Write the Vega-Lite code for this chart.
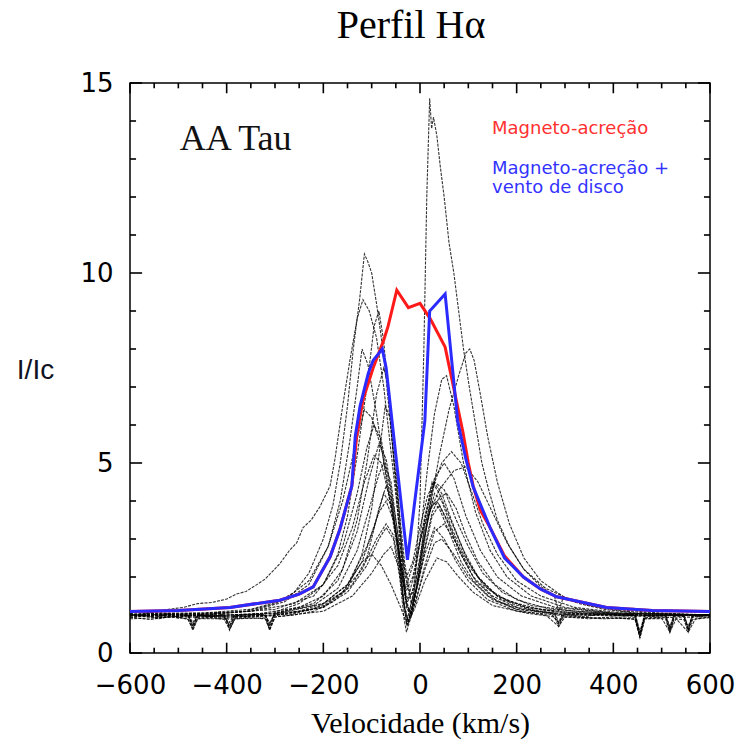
{
"$schema": "https://vega.github.io/schema/vega-lite/v6.json",
"width": 580, "height": 570,
"autosize": {"type": "none"},
"padding": {"left": 130, "top": 83, "right": 32, "bottom": 96},
"background": "white",
"config": {"view": {"stroke": "black", "strokeWidth": 1.5}, "axis": {"grid": false, "ticks": false, "domain": false}},
"title": {"text": "Perfil Hα", "font": "Liberation Serif", "fontSize": 40, "fontWeight": "normal", "color": "black", "anchor": "middle", "frame": "group", "offset": 24, "dx": -9},
"datasets": {
"xt": [
{"v":-600,"kind":"major"},{"v":-550,"kind":"minor"},{"v":-500,"kind":"minor"},{"v":-450,"kind":"minor"},{"v":-400,"kind":"major"},{"v":-350,"kind":"minor"},{"v":-300,"kind":"minor"},{"v":-250,"kind":"minor"},{"v":-200,"kind":"major"},{"v":-150,"kind":"minor"},{"v":-100,"kind":"minor"},{"v":-50,"kind":"minor"},{"v":0,"kind":"major"},{"v":50,"kind":"minor"},{"v":100,"kind":"minor"},{"v":150,"kind":"minor"},{"v":200,"kind":"major"},{"v":250,"kind":"minor"},{"v":300,"kind":"minor"},{"v":350,"kind":"minor"},{"v":400,"kind":"major"},{"v":450,"kind":"minor"},{"v":500,"kind":"minor"},{"v":550,"kind":"minor"},{"v":600,"kind":"major"}
],
"yt": [
{"i":0,"kind":"major"},{"i":1,"kind":"minor"},{"i":2,"kind":"minor"},{"i":3,"kind":"minor"},{"i":4,"kind":"minor"},{"i":5,"kind":"major"},{"i":6,"kind":"minor"},{"i":7,"kind":"minor"},{"i":8,"kind":"minor"},{"i":9,"kind":"minor"},{"i":10,"kind":"major"},{"i":11,"kind":"minor"},{"i":12,"kind":"minor"},{"i":13,"kind":"minor"},{"i":14,"kind":"minor"},{"i":15,"kind":"major"}
],
"obs": [
{"p":1,"v":-600,"i":1.0},{"p":1,"v":-560,"i":0.95},{"p":1,"v":-520,"i":1.03},{"p":1,"v":-480,"i":1.0},{"p":1,"v":-470,"i":0.7},{"p":1,"v":-460,"i":1.0},{"p":1,"v":-430,"i":0.96},{"p":1,"v":-405,"i":1.0},{"p":1,"v":-394,"i":0.72},{"p":1,"v":-383,"i":1.0},{"p":1,"v":-350,"i":1.02},{"p":1,"v":-320,"i":1.0},{"p":1,"v":-311,"i":0.75},{"p":1,"v":-300,"i":1.05},{"p":1,"v":-250,"i":1.1},{"p":1,"v":-200,"i":1.3},{"p":1,"v":-150,"i":1.8},{"p":1,"v":-120,"i":2.4},{"p":1,"v":-100,"i":2.6},{"p":1,"v":-80,"i":2.3},{"p":1,"v":-60,"i":1.8},{"p":1,"v":-40,"i":1.2},{"p":1,"v":-28,"i":0.8},{"p":1,"v":-12,"i":1.6},{"p":1,"v":0,"i":4.0},{"p":1,"v":8,"i":8.0},{"p":1,"v":14,"i":12.0},{"p":1,"v":20,"i":14.6},{"p":1,"v":24,"i":13.8},{"p":1,"v":28,"i":14.1},{"p":1,"v":35,"i":13.6},{"p":1,"v":42,"i":12.8},{"p":1,"v":50,"i":12.0},{"p":1,"v":60,"i":10.8},{"p":1,"v":70,"i":10.0},{"p":1,"v":80,"i":9.0},{"p":1,"v":90,"i":8.0},{"p":1,"v":102,"i":7.0},{"p":1,"v":115,"i":6.0},{"p":1,"v":128,"i":5.0},{"p":1,"v":142,"i":4.3},{"p":1,"v":160,"i":3.5},{"p":1,"v":185,"i":2.8},{"p":1,"v":215,"i":2.2},{"p":1,"v":250,"i":1.75},{"p":1,"v":278,"i":1.5},{"p":1,"v":287,"i":1.1},{"p":1,"v":296,"i":1.45},{"p":1,"v":330,"i":1.3},{"p":1,"v":380,"i":1.15},{"p":1,"v":445,"i":1.05},{"p":1,"v":455,"i":0.55},{"p":1,"v":465,"i":1.03},{"p":1,"v":508,"i":1.0},{"p":1,"v":517,"i":0.7},{"p":1,"v":526,"i":1.0},{"p":1,"v":546,"i":1.0},{"p":1,"v":555,"i":0.7},{"p":1,"v":564,"i":1.0},{"p":1,"v":600,"i":1.0},
{"p":2,"v":-600,"i":1.0},{"p":2,"v":-540,"i":1.05},{"p":2,"v":-480,"i":0.98},{"p":2,"v":-420,"i":1.05},{"p":2,"v":-360,"i":1.1},{"p":2,"v":-300,"i":1.3},{"p":2,"v":-260,"i":1.6},{"p":2,"v":-230,"i":2.1},{"p":2,"v":-200,"i":3.0},{"p":2,"v":-180,"i":3.9},{"p":2,"v":-165,"i":5.0},{"p":2,"v":-150,"i":6.5},{"p":2,"v":-138,"i":8.0},{"p":2,"v":-125,"i":9.3},{"p":2,"v":-115,"i":10.5},{"p":2,"v":-108,"i":10.3},{"p":2,"v":-100,"i":10.0},{"p":2,"v":-90,"i":9.2},{"p":2,"v":-80,"i":8.3},{"p":2,"v":-70,"i":7.2},{"p":2,"v":-58,"i":5.6},{"p":2,"v":-45,"i":4.0},{"p":2,"v":-32,"i":2.4},{"p":2,"v":-20,"i":1.5},{"p":2,"v":-8,"i":1.9},{"p":2,"v":5,"i":2.8},{"p":2,"v":20,"i":3.8},{"p":2,"v":40,"i":5.2},{"p":2,"v":60,"i":6.4},{"p":2,"v":80,"i":7.3},{"p":2,"v":95,"i":7.9},{"p":2,"v":103,"i":8.0},{"p":2,"v":112,"i":7.7},{"p":2,"v":125,"i":6.8},{"p":2,"v":140,"i":5.7},{"p":2,"v":160,"i":4.5},{"p":2,"v":185,"i":3.4},{"p":2,"v":215,"i":2.5},{"p":2,"v":250,"i":1.9},{"p":2,"v":300,"i":1.45},{"p":2,"v":350,"i":1.25},{"p":2,"v":420,"i":1.1},{"p":2,"v":500,"i":1.03},{"p":2,"v":600,"i":1.0},
{"p":3,"v":-600,"i":1.0},{"p":3,"v":-560,"i":1.05},{"p":3,"v":-520,"i":1.15},{"p":3,"v":-490,"i":1.2},{"p":3,"v":-460,"i":1.3},{"p":3,"v":-430,"i":1.33},{"p":3,"v":-400,"i":1.42},{"p":3,"v":-380,"i":1.55},{"p":3,"v":-360,"i":1.62},{"p":3,"v":-340,"i":1.78},{"p":3,"v":-320,"i":1.95},{"p":3,"v":-305,"i":2.15},{"p":3,"v":-290,"i":2.35},{"p":3,"v":-270,"i":2.7},{"p":3,"v":-255,"i":2.9},{"p":3,"v":-242,"i":3.3},{"p":3,"v":-225,"i":3.5},{"p":3,"v":-207,"i":3.85},{"p":3,"v":-186,"i":4.4},{"p":3,"v":-176,"i":5.1},{"p":3,"v":-160,"i":6.5},{"p":3,"v":-145,"i":7.7},{"p":3,"v":-130,"i":8.8},{"p":3,"v":-118,"i":9.3},{"p":3,"v":-105,"i":9.0},{"p":3,"v":-90,"i":8.3},{"p":3,"v":-75,"i":7.0},{"p":3,"v":-60,"i":5.3},{"p":3,"v":-45,"i":3.6},{"p":3,"v":-30,"i":2.0},{"p":3,"v":-18,"i":1.3},{"p":3,"v":-5,"i":1.8},{"p":3,"v":10,"i":2.8},{"p":3,"v":25,"i":3.7},{"p":3,"v":40,"i":4.1},{"p":3,"v":55,"i":4.2},{"p":3,"v":75,"i":3.8},{"p":3,"v":95,"i":3.1},{"p":3,"v":120,"i":2.4},{"p":3,"v":155,"i":1.8},{"p":3,"v":200,"i":1.4},{"p":3,"v":270,"i":1.15},{"p":3,"v":380,"i":1.05},{"p":3,"v":480,"i":0.98},{"p":3,"v":600,"i":1.0},
{"p":4,"v":-600,"i":1.0},{"p":4,"v":-540,"i":0.93},{"p":4,"v":-500,"i":0.97},{"p":4,"v":-480,"i":1.0},{"p":4,"v":-470,"i":0.65},{"p":4,"v":-460,"i":1.0},{"p":4,"v":-405,"i":0.98},{"p":4,"v":-394,"i":0.7},{"p":4,"v":-383,"i":0.98},{"p":4,"v":-340,"i":1.02},{"p":4,"v":-320,"i":1.0},{"p":4,"v":-311,"i":0.7},{"p":4,"v":-300,"i":1.08},{"p":4,"v":-250,"i":1.3},{"p":4,"v":-200,"i":1.8},{"p":4,"v":-170,"i":2.6},{"p":4,"v":-150,"i":3.6},{"p":4,"v":-130,"i":5.2},{"p":4,"v":-110,"i":7.0},{"p":4,"v":-95,"i":8.6},{"p":4,"v":-85,"i":9.0},{"p":4,"v":-75,"i":8.2},{"p":4,"v":-60,"i":6.0},{"p":4,"v":-45,"i":3.5},{"p":4,"v":-32,"i":1.5},{"p":4,"v":-22,"i":1.0},{"p":4,"v":-5,"i":1.8},{"p":4,"v":10,"i":3.5},{"p":4,"v":25,"i":4.5},{"p":4,"v":40,"i":4.2},{"p":4,"v":60,"i":3.6},{"p":4,"v":80,"i":3.0},{"p":4,"v":100,"i":2.4},{"p":4,"v":130,"i":1.8},{"p":4,"v":170,"i":1.4},{"p":4,"v":250,"i":1.15},{"p":4,"v":278,"i":1.1},{"p":4,"v":287,"i":0.8},{"p":4,"v":296,"i":1.08},{"p":4,"v":350,"i":1.05},{"p":4,"v":445,"i":0.98},{"p":4,"v":455,"i":0.45},{"p":4,"v":465,"i":0.98},{"p":4,"v":508,"i":0.97},{"p":4,"v":517,"i":0.6},{"p":4,"v":526,"i":0.97},{"p":4,"v":546,"i":0.96},{"p":4,"v":555,"i":0.6},{"p":4,"v":564,"i":0.96},{"p":4,"v":600,"i":0.98},
{"p":5,"v":-600,"i":0.95},{"p":5,"v":-520,"i":1.02},{"p":5,"v":-450,"i":1.0},{"p":5,"v":-350,"i":1.0},{"p":5,"v":-250,"i":1.2},{"p":5,"v":-200,"i":1.5},{"p":5,"v":-160,"i":2.2},{"p":5,"v":-130,"i":3.5},{"p":5,"v":-110,"i":5.0},{"p":5,"v":-90,"i":6.8},{"p":5,"v":-75,"i":7.5},{"p":5,"v":-65,"i":7.0},{"p":5,"v":-50,"i":5.0},{"p":5,"v":-38,"i":2.8},{"p":5,"v":-28,"i":1.3},{"p":5,"v":-18,"i":1.0},{"p":5,"v":-3,"i":2.0},{"p":5,"v":15,"i":3.4},{"p":5,"v":30,"i":4.2},{"p":5,"v":45,"i":4.0},{"p":5,"v":65,"i":3.3},{"p":5,"v":90,"i":2.6},{"p":5,"v":120,"i":2.0},{"p":5,"v":160,"i":1.5},{"p":5,"v":220,"i":1.2},{"p":5,"v":300,"i":1.05},{"p":5,"v":400,"i":1.0},{"p":5,"v":500,"i":1.03},{"p":5,"v":600,"i":0.98},
{"p":6,"v":-600,"i":1.0},{"p":6,"v":-520,"i":0.95},{"p":6,"v":-480,"i":0.98},{"p":6,"v":-470,"i":0.75},{"p":6,"v":-460,"i":0.98},{"p":6,"v":-405,"i":0.95},{"p":6,"v":-394,"i":0.65},{"p":6,"v":-383,"i":0.95},{"p":6,"v":-320,"i":0.98},{"p":6,"v":-311,"i":0.65},{"p":6,"v":-300,"i":1.02},{"p":6,"v":-220,"i":1.25},{"p":6,"v":-170,"i":1.7},{"p":6,"v":-130,"i":2.7},{"p":6,"v":-105,"i":3.8},{"p":6,"v":-85,"i":4.7},{"p":6,"v":-75,"i":5.0},{"p":6,"v":-60,"i":4.5},{"p":6,"v":-45,"i":3.0},{"p":6,"v":-33,"i":1.2},{"p":6,"v":-25,"i":0.75},{"p":6,"v":-10,"i":1.5},{"p":6,"v":8,"i":3.0},{"p":6,"v":25,"i":4.0},{"p":6,"v":40,"i":3.8},{"p":6,"v":60,"i":3.2},{"p":6,"v":85,"i":2.4},{"p":6,"v":110,"i":1.9},{"p":6,"v":150,"i":1.4},{"p":6,"v":200,"i":1.2},{"p":6,"v":278,"i":1.05},{"p":6,"v":287,"i":0.75},{"p":6,"v":296,"i":1.03},{"p":6,"v":350,"i":1.02},{"p":6,"v":445,"i":1.0},{"p":6,"v":455,"i":0.45},{"p":6,"v":465,"i":0.98},{"p":6,"v":508,"i":0.98},{"p":6,"v":517,"i":0.55},{"p":6,"v":526,"i":0.98},{"p":6,"v":546,"i":0.98},{"p":6,"v":555,"i":0.6},{"p":6,"v":564,"i":0.98},{"p":6,"v":600,"i":1.0},
{"p":7,"v":-600,"i":0.9},{"p":7,"v":-500,"i":0.95},{"p":7,"v":-400,"i":0.92},{"p":7,"v":-300,"i":0.98},{"p":7,"v":-220,"i":1.15},{"p":7,"v":-160,"i":1.6},{"p":7,"v":-120,"i":2.4},{"p":7,"v":-95,"i":3.3},{"p":7,"v":-75,"i":4.2},{"p":7,"v":-60,"i":3.9},{"p":7,"v":-45,"i":2.8},{"p":7,"v":-35,"i":1.5},{"p":7,"v":-27,"i":0.7},{"p":7,"v":-12,"i":1.4},{"p":7,"v":10,"i":2.6},{"p":7,"v":30,"i":3.3},{"p":7,"v":50,"i":3.0},{"p":7,"v":75,"i":2.4},{"p":7,"v":100,"i":1.9},{"p":7,"v":140,"i":1.4},{"p":7,"v":200,"i":1.1},{"p":7,"v":300,"i":0.98},{"p":7,"v":380,"i":0.9},{"p":7,"v":445,"i":0.93},{"p":7,"v":455,"i":0.55},{"p":7,"v":465,"i":0.93},{"p":7,"v":600,"i":0.95},
{"p":8,"v":-600,"i":1.0},{"p":8,"v":-400,"i":0.95},{"p":8,"v":-300,"i":1.0},{"p":8,"v":-200,"i":1.2},{"p":8,"v":-150,"i":1.6},{"p":8,"v":-110,"i":2.3},{"p":8,"v":-85,"i":3.0},{"p":8,"v":-70,"i":3.3},{"p":8,"v":-55,"i":3.0},{"p":8,"v":-42,"i":2.0},{"p":8,"v":-33,"i":0.9},{"p":8,"v":-28,"i":0.55},{"p":8,"v":-15,"i":1.1},{"p":8,"v":10,"i":2.2},{"p":8,"v":30,"i":2.9},{"p":8,"v":45,"i":3.0},{"p":8,"v":70,"i":2.6},{"p":8,"v":100,"i":2.0},{"p":8,"v":140,"i":1.5},{"p":8,"v":200,"i":1.15},{"p":8,"v":300,"i":1.0},{"p":8,"v":450,"i":0.97},{"p":8,"v":600,"i":1.0},
{"p":9,"v":-600,"i":1.0},{"p":9,"v":-450,"i":1.05},{"p":9,"v":-350,"i":1.15},{"p":9,"v":-280,"i":1.4},{"p":9,"v":-230,"i":1.9},{"p":9,"v":-190,"i":2.8},{"p":9,"v":-160,"i":4.0},{"p":9,"v":-135,"i":5.4},{"p":9,"v":-115,"i":6.4},{"p":9,"v":-100,"i":6.2},{"p":9,"v":-80,"i":5.4},{"p":9,"v":-60,"i":4.0},{"p":9,"v":-42,"i":2.5},{"p":9,"v":-30,"i":1.6},{"p":9,"v":-15,"i":2.0},{"p":9,"v":5,"i":3.2},{"p":9,"v":25,"i":4.3},{"p":9,"v":45,"i":5.0},{"p":9,"v":65,"i":5.3},{"p":9,"v":85,"i":5.0},{"p":9,"v":105,"i":4.3},{"p":9,"v":130,"i":3.4},{"p":9,"v":160,"i":2.6},{"p":9,"v":200,"i":1.9},{"p":9,"v":250,"i":1.5},{"p":9,"v":320,"i":1.2},{"p":9,"v":420,"i":1.05},{"p":9,"v":600,"i":1.0},
{"p":10,"v":-600,"i":1.0},{"p":10,"v":-400,"i":1.0},{"p":10,"v":-300,"i":1.05},{"p":10,"v":-200,"i":1.3},{"p":10,"v":-150,"i":1.8},{"p":10,"v":-110,"i":2.8},{"p":10,"v":-85,"i":3.7},{"p":10,"v":-70,"i":4.0},{"p":10,"v":-55,"i":3.5},{"p":10,"v":-40,"i":2.4},{"p":10,"v":-28,"i":1.3},{"p":10,"v":-15,"i":1.6},{"p":10,"v":0,"i":3.0},{"p":10,"v":15,"i":4.8},{"p":10,"v":30,"i":6.3},{"p":10,"v":45,"i":7.2},{"p":10,"v":55,"i":7.3},{"p":10,"v":70,"i":6.5},{"p":10,"v":90,"i":5.0},{"p":10,"v":115,"i":3.7},{"p":10,"v":145,"i":2.7},{"p":10,"v":180,"i":2.0},{"p":10,"v":230,"i":1.5},{"p":10,"v":300,"i":1.2},{"p":10,"v":400,"i":1.05},{"p":10,"v":600,"i":1.0},
{"p":11,"v":-600,"i":1.05},{"p":11,"v":-450,"i":1.05},{"p":11,"v":-350,"i":1.1},{"p":11,"v":-260,"i":1.3},{"p":11,"v":-200,"i":1.8},{"p":11,"v":-160,"i":2.8},{"p":11,"v":-130,"i":4.2},{"p":11,"v":-110,"i":5.4},{"p":11,"v":-95,"i":6.0},{"p":11,"v":-80,"i":5.6},{"p":11,"v":-60,"i":4.2},{"p":11,"v":-45,"i":2.8},{"p":11,"v":-32,"i":1.6},{"p":11,"v":-22,"i":1.1},{"p":11,"v":-10,"i":1.8},{"p":11,"v":10,"i":3.3},{"p":11,"v":30,"i":4.5},{"p":11,"v":50,"i":4.3},{"p":11,"v":75,"i":3.5},{"p":11,"v":100,"i":2.8},{"p":11,"v":130,"i":2.1},{"p":11,"v":170,"i":1.6},{"p":11,"v":230,"i":1.25},{"p":11,"v":320,"i":1.1},{"p":11,"v":450,"i":1.0},{"p":11,"v":600,"i":1.0},
{"p":12,"v":-600,"i":1.0},{"p":12,"v":-450,"i":1.0},{"p":12,"v":-350,"i":1.1},{"p":12,"v":-280,"i":1.35},{"p":12,"v":-230,"i":1.8},{"p":12,"v":-190,"i":2.8},{"p":12,"v":-165,"i":4.0},{"p":12,"v":-145,"i":5.6},{"p":12,"v":-130,"i":7.0},{"p":12,"v":-120,"i":8.0},{"p":12,"v":-108,"i":7.6},{"p":12,"v":-90,"i":6.3},{"p":12,"v":-70,"i":4.6},{"p":12,"v":-50,"i":3.0},{"p":12,"v":-35,"i":1.8},{"p":12,"v":-25,"i":1.4},{"p":12,"v":-10,"i":2.2},{"p":12,"v":10,"i":3.6},{"p":12,"v":30,"i":4.6},{"p":12,"v":50,"i":5.0},{"p":12,"v":70,"i":4.6},{"p":12,"v":95,"i":3.6},{"p":12,"v":125,"i":2.7},{"p":12,"v":160,"i":2.0},{"p":12,"v":210,"i":1.5},{"p":12,"v":280,"i":1.2},{"p":12,"v":400,"i":1.05},{"p":12,"v":600,"i":1.0},
{"p":13,"v":-600,"i":0.95},{"p":13,"v":-560,"i":0.88},{"p":13,"v":-520,"i":0.95},{"p":13,"v":-480,"i":0.9},{"p":13,"v":-470,"i":0.6},{"p":13,"v":-460,"i":0.9},{"p":13,"v":-400,"i":0.9},{"p":13,"v":-394,"i":0.6},{"p":13,"v":-383,"i":0.9},{"p":13,"v":-320,"i":0.92},{"p":13,"v":-311,"i":0.6},{"p":13,"v":-300,"i":0.95},{"p":13,"v":-200,"i":1.1},{"p":13,"v":-140,"i":1.5},{"p":13,"v":-100,"i":2.1},{"p":13,"v":-75,"i":2.6},{"p":13,"v":-60,"i":2.8},{"p":13,"v":-45,"i":2.3},{"p":13,"v":-33,"i":1.3},{"p":13,"v":-24,"i":0.8},{"p":13,"v":-10,"i":1.2},{"p":13,"v":10,"i":1.9},{"p":13,"v":35,"i":2.5},{"p":13,"v":55,"i":2.4},{"p":13,"v":80,"i":2.0},{"p":13,"v":110,"i":1.6},{"p":13,"v":150,"i":1.25},{"p":13,"v":220,"i":1.05},{"p":13,"v":278,"i":0.95},{"p":13,"v":287,"i":0.7},{"p":13,"v":296,"i":0.95},{"p":13,"v":380,"i":0.92},{"p":13,"v":445,"i":0.9},{"p":13,"v":455,"i":0.4},{"p":13,"v":465,"i":0.9},{"p":13,"v":508,"i":0.9},{"p":13,"v":517,"i":0.55},{"p":13,"v":526,"i":0.9},{"p":13,"v":546,"i":0.88},{"p":13,"v":555,"i":0.55},{"p":13,"v":564,"i":0.88},{"p":13,"v":600,"i":0.95},
{"p":14,"v":-600,"i":1.0},{"p":14,"v":-400,"i":1.0},{"p":14,"v":-300,"i":1.05},{"p":14,"v":-220,"i":1.3},{"p":14,"v":-170,"i":1.9},{"p":14,"v":-130,"i":3.2},{"p":14,"v":-105,"i":4.6},{"p":14,"v":-85,"i":5.5},{"p":14,"v":-70,"i":5.1},{"p":14,"v":-55,"i":3.9},{"p":14,"v":-40,"i":2.7},{"p":14,"v":-28,"i":2.0},{"p":14,"v":-15,"i":2.4},{"p":14,"v":0,"i":3.3},{"p":14,"v":15,"i":4.1},{"p":14,"v":28,"i":4.5},{"p":14,"v":45,"i":4.2},{"p":14,"v":65,"i":3.5},{"p":14,"v":90,"i":2.7},{"p":14,"v":120,"i":2.0},{"p":14,"v":160,"i":1.5},{"p":14,"v":220,"i":1.2},{"p":14,"v":320,"i":1.05},{"p":14,"v":450,"i":1.0},{"p":14,"v":600,"i":1.0},
{"p":15,"v":-600,"i":1.0},{"p":15,"v":-400,"i":0.97},{"p":15,"v":-300,"i":1.0},{"p":15,"v":-200,"i":1.2},{"p":15,"v":-150,"i":1.7},{"p":15,"v":-120,"i":2.6},{"p":15,"v":-100,"i":3.8},{"p":15,"v":-85,"i":5.2},{"p":15,"v":-72,"i":6.5},{"p":15,"v":-62,"i":6.2},{"p":15,"v":-50,"i":4.6},{"p":15,"v":-38,"i":2.6},{"p":15,"v":-28,"i":1.2},{"p":15,"v":-18,"i":1.0},{"p":15,"v":0,"i":2.3},{"p":15,"v":20,"i":3.8},{"p":15,"v":35,"i":4.0},{"p":15,"v":55,"i":3.5},{"p":15,"v":80,"i":2.7},{"p":15,"v":110,"i":2.0},{"p":15,"v":150,"i":1.5},{"p":15,"v":210,"i":1.15},{"p":15,"v":300,"i":1.02},{"p":15,"v":450,"i":0.98},{"p":15,"v":600,"i":1.0},
{"p":16,"v":-600,"i":1.0},{"p":16,"v":-400,"i":1.05},{"p":16,"v":-300,"i":1.15},{"p":16,"v":-220,"i":1.5},{"p":16,"v":-170,"i":2.3},{"p":16,"v":-140,"i":3.3},{"p":16,"v":-115,"i":4.5},{"p":16,"v":-95,"i":5.2},{"p":16,"v":-80,"i":5.0},{"p":16,"v":-60,"i":3.9},{"p":16,"v":-42,"i":2.6},{"p":16,"v":-30,"i":1.7},{"p":16,"v":-15,"i":2.3},{"p":16,"v":10,"i":3.4},{"p":16,"v":40,"i":4.3},{"p":16,"v":70,"i":4.8},{"p":16,"v":95,"i":4.9},{"p":16,"v":120,"i":4.5},{"p":16,"v":150,"i":3.7},{"p":16,"v":180,"i":2.9},{"p":16,"v":215,"i":2.2},{"p":16,"v":260,"i":1.7},{"p":16,"v":320,"i":1.35},{"p":16,"v":400,"i":1.15},{"p":16,"v":500,"i":1.05},{"p":16,"v":600,"i":1.0},
{"p":17,"v":-600,"i":1.05},{"p":17,"v":-580,"i":0.97},{"p":17,"v":-560,"i":1.08},{"p":17,"v":-540,"i":0.95},{"p":17,"v":-520,"i":1.04},{"p":17,"v":-500,"i":0.92},{"p":17,"v":-480,"i":1.0},{"p":17,"v":-470,"i":0.8},{"p":17,"v":-460,"i":1.02},{"p":17,"v":-440,"i":0.95},{"p":17,"v":-420,"i":1.06},{"p":17,"v":-400,"i":0.97},{"p":17,"v":-394,"i":0.8},{"p":17,"v":-385,"i":1.0},{"p":17,"v":-360,"i":0.95},{"p":17,"v":-340,"i":1.05},{"p":17,"v":-320,"i":0.98},{"p":17,"v":-311,"i":0.8},{"p":17,"v":-300,"i":1.04},{"p":17,"v":-270,"i":1.0},{"p":17,"v":-240,"i":1.1},{"p":17,"v":-200,"i":1.25},{"p":17,"v":-160,"i":1.6},{"p":17,"v":-120,"i":2.2},{"p":17,"v":-90,"i":3.0},{"p":17,"v":-70,"i":3.4},{"p":17,"v":-55,"i":3.1},{"p":17,"v":-42,"i":2.2},{"p":17,"v":-32,"i":1.2},{"p":17,"v":-24,"i":0.85},{"p":17,"v":-10,"i":1.3},{"p":17,"v":10,"i":2.3},{"p":17,"v":30,"i":3.2},{"p":17,"v":50,"i":3.4},{"p":17,"v":75,"i":2.9},{"p":17,"v":100,"i":2.3},{"p":17,"v":140,"i":1.7},{"p":17,"v":190,"i":1.3},{"p":17,"v":240,"i":1.1},{"p":17,"v":270,"i":1.05},{"p":17,"v":287,"i":0.8},{"p":17,"v":300,"i":1.02},{"p":17,"v":340,"i":0.95},{"p":17,"v":380,"i":1.05},{"p":17,"v":420,"i":0.97},{"p":17,"v":445,"i":1.0},{"p":17,"v":455,"i":0.5},{"p":17,"v":465,"i":1.0},{"p":17,"v":490,"i":0.94},{"p":17,"v":508,"i":1.02},{"p":17,"v":517,"i":0.65},{"p":17,"v":526,"i":1.0},{"p":17,"v":546,"i":0.97},{"p":17,"v":555,"i":0.65},{"p":17,"v":564,"i":1.0},{"p":17,"v":580,"i":0.95},{"p":17,"v":600,"i":1.02},
{"p":18,"v":-600,"i":0.92},{"p":18,"v":-570,"i":1.0},{"p":18,"v":-540,"i":0.9},{"p":18,"v":-510,"i":0.98},{"p":18,"v":-480,"i":0.88},{"p":18,"v":-470,"i":0.65},{"p":18,"v":-460,"i":0.9},{"p":18,"v":-430,"i":0.93},{"p":18,"v":-405,"i":0.88},{"p":18,"v":-394,"i":0.62},{"p":18,"v":-383,"i":0.9},{"p":18,"v":-350,"i":0.93},{"p":18,"v":-320,"i":0.9},{"p":18,"v":-311,"i":0.62},{"p":18,"v":-300,"i":0.95},{"p":18,"v":-260,"i":1.0},{"p":18,"v":-220,"i":1.1},{"p":18,"v":-180,"i":1.35},{"p":18,"v":-140,"i":1.8},{"p":18,"v":-110,"i":2.5},{"p":18,"v":-85,"i":3.8},{"p":18,"v":-70,"i":4.4},{"p":18,"v":-58,"i":4.0},{"p":18,"v":-45,"i":2.6},{"p":18,"v":-35,"i":1.4},{"p":18,"v":-27,"i":0.75},{"p":18,"v":-15,"i":1.2},{"p":18,"v":5,"i":2.4},{"p":18,"v":25,"i":3.6},{"p":18,"v":40,"i":3.9},{"p":18,"v":60,"i":3.4},{"p":18,"v":85,"i":2.6},{"p":18,"v":115,"i":1.9},{"p":18,"v":160,"i":1.35},{"p":18,"v":210,"i":1.1},{"p":18,"v":260,"i":1.0},{"p":18,"v":287,"i":0.7},{"p":18,"v":300,"i":0.95},{"p":18,"v":350,"i":0.9},{"p":18,"v":400,"i":0.95},{"p":18,"v":445,"i":0.88},{"p":18,"v":455,"i":0.4},{"p":18,"v":465,"i":0.9},{"p":18,"v":500,"i":0.92},{"p":18,"v":517,"i":0.55},{"p":18,"v":530,"i":0.9},{"p":18,"v":555,"i":0.55},{"p":18,"v":570,"i":0.9},{"p":18,"v":600,"i":0.93}
],
"red": [
{"v":-600,"i":1.09},{"v":-500,"i":1.12},{"v":-393,"i":1.2},{"v":-290,"i":1.39},{"v":-250,"i":1.55},{"v":-221,"i":1.74},{"v":-186,"i":2.53},{"v":-166,"i":3.24},{"v":-141,"i":4.4},{"v":-131,"i":5.7},{"v":-118,"i":6.66},{"v":-97,"i":7.5},{"v":-76,"i":8.2},{"v":-66,"i":8.6},{"v":-48,"i":9.55},{"v":-24,"i":9.09},{"v":0,"i":9.2},{"v":21,"i":8.8},{"v":52,"i":8.05},{"v":66,"i":7.2},{"v":89,"i":5.8},{"v":100,"i":5.0},{"v":110,"i":4.4},{"v":125,"i":3.75},{"v":145,"i":3.3},{"v":175,"i":2.55},{"v":214,"i":2.0},{"v":250,"i":1.68},{"v":283,"i":1.48},{"v":386,"i":1.2},{"v":480,"i":1.12},{"v":600,"i":1.09}
],
"blue": [
{"v":-600,"i":1.09},{"v":-500,"i":1.12},{"v":-393,"i":1.2},{"v":-290,"i":1.39},{"v":-250,"i":1.55},{"v":-221,"i":1.74},{"v":-186,"i":2.53},{"v":-166,"i":3.24},{"v":-141,"i":4.4},{"v":-134,"i":5.7},{"v":-124,"i":6.5},{"v":-107,"i":7.36},{"v":-97,"i":7.7},{"v":-78,"i":8.0},{"v":-70,"i":7.5},{"v":-26,"i":2.45},{"v":10,"i":6.1},{"v":20,"i":9.0},{"v":52,"i":9.45},{"v":78,"i":6.1},{"v":95,"i":5.1},{"v":110,"i":4.37},{"v":145,"i":3.3},{"v":175,"i":2.5},{"v":214,"i":2.0},{"v":250,"i":1.68},{"v":283,"i":1.48},{"v":386,"i":1.2},{"v":480,"i":1.12},{"v":600,"i":1.09}
]
},
"resolve": {"axis": {"x": "independent", "y": "independent"}},
"layer": [
{
"data": {"name": "obs"},
"mark": {"type": "line", "color": "#000000", "strokeWidth": 1.1, "opacity": 0.8, "strokeDash": [3, 1.2]},
"encoding": {
"x": {"field": "v", "type": "quantitative", "scale": {"domain": [-600, 600], "nice": false, "zero": false},
 "axis": {"orient": "bottom", "values": [-600,-400,-200,0,200,400,600],
  "labelFlush": false, "labelOverlap": false,
  "labelFont": "DejaVu Sans", "labelFontSize": 26, "labelColor": "black", "labelPadding": 19,
  "title": "Velocidade (km/s)", "titleFont": "Liberation Serif", "titleFontSize": 30, "titleFontWeight": "normal", "titleColor": "black", "titlePadding": 10}},
"y": {"field": "i", "type": "quantitative", "scale": {"domain": [0, 15], "nice": false},
 "axis": {"orient": "left", "values": [0,5,10,15],
  "labelFlush": false, "labelOverlap": false,
  "labelFont": "DejaVu Sans", "labelFontSize": 26, "labelColor": "black", "labelPadding": 17,
  "title": "I/Ic", "titleAngle": 0, "titleAlign": "center", "titleBaseline": "middle", "titleX": -95, "titleY": 287,
  "titleFont": "Liberation Sans", "titleFontSize": 28, "titleFontWeight": "normal", "titleColor": "#111122"}},
"detail": {"field": "p", "type": "nominal"}
}
},
{
"data": {"name": "red"},
"mark": {"type": "line", "color": "#ff1a1a", "strokeWidth": 3},
"encoding": {
"x": {"field": "v", "type": "quantitative", "axis": null},
"y": {"field": "i", "type": "quantitative", "axis": null}
}
},
{
"data": {"name": "blue"},
"mark": {"type": "line", "color": "#2b2bff", "strokeWidth": 3},
"encoding": {
"x": {"field": "v", "type": "quantitative", "axis": null},
"y": {"field": "i", "type": "quantitative", "axis": null}
}
},
{
"data": {"name": "xt"},
"transform": [{"filter": "datum.kind === 'major'"}],
"mark": {"type": "rule", "color": "black", "strokeWidth": 1.6},
"encoding": {
"x": {"field": "v", "type": "quantitative", "axis": null},
"y": {"datum": 0, "type": "quantitative", "axis": null},
"y2": {"datum": 0.27}
}
},
{
"data": {"name": "xt"},
"transform": [{"filter": "datum.kind === 'minor'"}],
"mark": {"type": "rule", "color": "black", "strokeWidth": 1.6},
"encoding": {
"x": {"field": "v", "type": "quantitative", "axis": null},
"y": {"datum": 0, "type": "quantitative", "axis": null},
"y2": {"datum": 0.14}
}
},
{
"data": {"name": "xt"},
"transform": [{"filter": "datum.kind === 'major'"}],
"mark": {"type": "rule", "color": "black", "strokeWidth": 1.6},
"encoding": {
"x": {"field": "v", "type": "quantitative", "axis": null},
"y": {"datum": 15, "type": "quantitative", "axis": null},
"y2": {"datum": 14.73}
}
},
{
"data": {"name": "xt"},
"transform": [{"filter": "datum.kind === 'minor'"}],
"mark": {"type": "rule", "color": "black", "strokeWidth": 1.6},
"encoding": {
"x": {"field": "v", "type": "quantitative", "axis": null},
"y": {"datum": 15, "type": "quantitative", "axis": null},
"y2": {"datum": 14.86}
}
},
{
"data": {"name": "yt"},
"transform": [{"filter": "datum.kind === 'major'"}],
"mark": {"type": "rule", "color": "black", "strokeWidth": 1.6},
"encoding": {
"y": {"field": "i", "type": "quantitative", "axis": null},
"x": {"datum": -600, "type": "quantitative", "axis": null},
"x2": {"datum": -575}
}
},
{
"data": {"name": "yt"},
"transform": [{"filter": "datum.kind === 'minor'"}],
"mark": {"type": "rule", "color": "black", "strokeWidth": 1.6},
"encoding": {
"y": {"field": "i", "type": "quantitative", "axis": null},
"x": {"datum": -600, "type": "quantitative", "axis": null},
"x2": {"datum": -587.5}
}
},
{
"data": {"name": "yt"},
"transform": [{"filter": "datum.kind === 'major'"}],
"mark": {"type": "rule", "color": "black", "strokeWidth": 1.6},
"encoding": {
"y": {"field": "i", "type": "quantitative", "axis": null},
"x": {"datum": 600, "type": "quantitative", "axis": null},
"x2": {"datum": 575}
}
},
{
"data": {"name": "yt"},
"transform": [{"filter": "datum.kind === 'minor'"}],
"mark": {"type": "rule", "color": "black", "strokeWidth": 1.6},
"encoding": {
"y": {"field": "i", "type": "quantitative", "axis": null},
"x": {"datum": 600, "type": "quantitative", "axis": null},
"x2": {"datum": 587.5}
}
},
{
"data": {"values": [{"v": -497, "i": 13.25, "t": "AA Tau"}]},
"mark": {"type": "text", "font": "Liberation Serif", "fontSize": 36, "align": "left", "baseline": "alphabetic", "color": "#111111"},
"encoding": {
"x": {"field": "v", "type": "quantitative", "axis": null},
"y": {"field": "i", "type": "quantitative", "axis": null},
"text": {"field": "t"}
}
},
{
"data": {"values": [{"v": 149, "i": 13.66, "t": "Magneto-acreção"}]},
"mark": {"type": "text", "font": "DejaVu Sans", "fontSize": 18, "align": "left", "baseline": "alphabetic", "color": "#ff3030"},
"encoding": {
"x": {"field": "v", "type": "quantitative", "axis": null},
"y": {"field": "i", "type": "quantitative", "axis": null},
"text": {"field": "t"}
}
},
{
"data": {"values": [{"v": 149, "i": 12.6, "t": "Magneto-acreção +"}, {"v": 149, "i": 12.1, "t": "vento de disco"}]},
"mark": {"type": "text", "font": "DejaVu Sans", "fontSize": 18, "align": "left", "baseline": "alphabetic", "color": "#3333ff"},
"encoding": {
"x": {"field": "v", "type": "quantitative", "axis": null},
"y": {"field": "i", "type": "quantitative", "axis": null},
"text": {"field": "t"}
}
}
]
}
